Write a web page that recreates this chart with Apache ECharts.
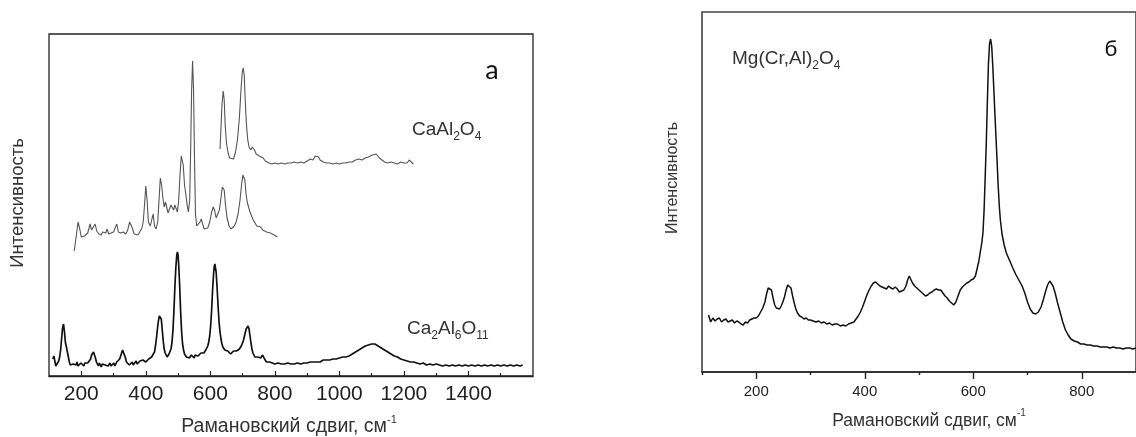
<!DOCTYPE html>
<html>
<head>
<meta charset="utf-8">
<script src="https://cdn.jsdelivr.net/npm/echarts@6/dist/echarts.min.js"></script>
<style>
  html, body { margin: 0; padding: 0; background: #fff; }
  #chart { width: 1136px; height: 437px; }
</style>
</head>
<body>
<div id="chart"></div>
<script>
// Raman shift tick values, cm^-1 (panel а and panel б)
const ticksA = [200, 400, 600, 800, 1000, 1200, 1400];
const minorA = [300, 500, 700, 900, 1100, 1300, 1500];
const ticksB = [200, 400, 600, 800];
const minorB = [100, 300, 500, 700];

// Spectra as [Raman shift (cm^-1), intensity (a.u.)]
const ca2al6o11 = [
  [112,17],[115,20],[118,15],[121,10],[124,8],[127,12],[130,15],[133,19],[136,26],[139,37],[142,48],[145,52],[148,44],[151,33],[154,29],[157,27],[160,19],[163,14],[166,11],[169,13],[172,9],[175,12],[178,10],[181,13],[184,11],[187,14],[190,10],[193,12],[196,9],[199,13],[202,11],[205,12],[208,10],[211,13],[214,11],[217,12],[220,13],[223,12],[226,15],[229,17],[232,21],[235,23],[238,24],[241,23],[244,18],[247,14],[250,12],[253,10],[256,13],[259,11],[262,9],[265,12],[268,10],[271,13],[274,11],[277,9],[280,12],[283,10],[286,11],[289,13],[292,10],[295,12],[298,11],[301,13],[304,10],[307,12],[310,14],[313,12],[316,15],[319,17],[322,19],[325,23],[328,26],[331,27],[334,24],[337,18],[340,14],[343,12],[346,14],[349,11],[352,13],[355,12],[358,14],[361,11],[364,13],[367,12],[370,15],[373,12],[376,14],[379,13],[382,15],[385,13],[388,14],[391,16],[394,14],[397,15],[400,14],[403,16],[406,15],[409,17],[412,16],[415,18],[418,19],[421,18],[424,21],[427,24],[430,30],[433,38],[436,47],[439,55],[442,60],[445,62],[448,57],[451,46],[454,35],[457,27],[460,23],[463,21],[466,19],[469,20],[472,22],[475,24],[478,27],[481,33],[484,45],[487,64],[490,88],[493,108],[496,121],[498,124],[500,121],[502,111],[505,90],[508,64],[511,44],[514,32],[517,26],[520,22],[523,20],[526,19],[529,18],[532,20],[535,18],[538,19],[541,21],[544,19],[547,20],[550,18],[553,21],[556,19],[559,22],[562,20],[565,22],[568,21],[571,23],[574,22],[577,24],[580,23],[583,25],[586,26],[589,28],[592,30],[595,34],[598,40],[601,50],[604,66],[607,86],[610,102],[612,109],[614,112],[616,110],[618,104],[621,88],[624,70],[627,54],[630,44],[633,37],[636,32],[639,29],[642,28],[645,26],[648,25],[651,24],[654,25],[657,23],[660,24],[663,22],[666,24],[669,23],[672,25],[675,23],[678,24],[681,25],[684,24],[687,26],[690,27],[693,28],[696,30],[699,32],[702,35],[705,39],[708,43],[711,47],[714,49],[717,50],[720,47],[723,40],[726,33],[729,27],[732,23],[735,21],[738,19],[741,20],[744,18],[747,19],[750,17],[753,19],[756,18],[759,20],[762,21],[765,19],[768,17],[771,16],[774,14],[777,15],[780,13],[784,14],[788,12],[792,13],[796,11],[800,12],[805,11],[810,13],[815,11],[820,12],[825,10],[830,12],[835,11],[840,13],[845,11],[850,12],[855,10],[860,12],[865,11],[870,13],[875,11],[880,12],[885,11],[890,13],[895,12],[900,13],[905,12],[910,14],[915,13],[920,14],[925,13],[930,14],[935,15],[940,14],[945,15],[950,16],[955,15],[960,16],[965,17],[970,16],[975,17],[980,17],[985,18],[990,17],[995,19],[1000,18],[1005,19],[1010,19],[1015,20],[1020,19],[1025,21],[1030,20],[1035,22],[1040,22],[1045,24],[1050,24],[1055,26],[1060,26],[1065,27],[1070,28],[1075,29],[1080,30],[1085,30],[1090,31],[1095,32],[1100,32],[1105,31],[1110,32],[1115,30],[1120,30],[1125,28],[1130,28],[1135,26],[1140,26],[1145,24],[1150,24],[1155,22],[1160,22],[1165,20],[1170,20],[1175,19],[1180,19],[1185,17],[1190,17],[1195,16],[1200,16],[1210,15],[1220,14],[1230,14],[1240,13],[1250,12],[1260,13],[1270,11],[1280,12],[1290,11],[1300,12],[1310,11],[1320,10],[1330,11],[1340,10],[1350,11],[1360,10],[1370,11],[1380,10],[1390,11],[1400,10],[1410,11],[1420,10],[1430,11],[1440,10],[1450,11],[1460,10],[1470,11],[1480,10],[1490,11],[1500,10],[1510,11],[1520,10],[1530,11],[1540,10],[1550,11],[1560,10],[1568,11]
];

const caal2o4Full = [
  [178,125],[182,134],[186,144],[190,154],[193,155],[196,146],[200,139],[205,141],[210,140],[215,142],[220,143],[224,148],[227,152],[232,146],[238,144],[243,152],[248,145],[255,142],[262,141],[266,144],[270,145],[276,143],[280,147],[285,142],[292,143],[300,144],[306,149],[310,152],[315,144],[322,143],[330,144],[338,142],[344,146],[350,154],[354,156],[358,148],[364,142],[370,140],[376,141],[382,143],[388,148],[392,154],[396,171],[400,190],[404,176],[408,154],[414,150],[419,157],[423,162],[427,150],[432,147],[437,154],[441,176],[445,198],[449,191],[453,178],[457,169],[461,174],[465,173],[469,163],[474,162],[478,171],[482,173],[486,166],[490,171],[494,173],[498,164],[502,176],[506,201],[510,220],[513,222],[516,211],[520,191],[524,182],[528,171],[532,164],[536,176],[539,226],[542,286],[545,315],[548,286],[551,216],[554,161],[558,150],[563,148],[568,154],[572,157],[576,152],[581,147],[587,145],[592,148],[598,154],[604,164],[609,169],[613,166],[618,158],[623,158],[628,166],[633,178],[637,189],[640,191],[643,186],[647,171],[652,158],[658,150],[664,147],[669,147],[674,150],[680,154],[686,162],[692,176],[697,192],[701,201],[704,202],[707,196],[711,181],[715,173],[719,171],[723,164],[728,160],[733,156],[738,154],[744,150],[750,148],[756,149],[762,146],[768,147],[774,144],[780,145],[786,143],[792,144],[798,141],[804,142],[808,139]
];

const caal2o4Top = [
  [630,227],[633,248],[636,271],[640,285],[643,276],[646,251],[650,233],[655,223],[660,218],[666,216],[672,217],[678,224],[684,236],[690,258],[695,286],[699,304],[702,308],[705,301],[708,276],[712,251],[716,236],[720,229],[725,226],[730,229],[733,231],[737,226],[742,222],[747,223],[752,220],[758,219],[764,218],[770,215],[776,214],[782,213],[790,212],[800,213],[810,212],[820,213],[830,212],[840,213],[850,213],[860,214],[870,213],[880,214],[890,213],[900,215],[910,217],[918,216],[925,220],[930,222],[935,219],[940,216],[950,214],[960,213],[970,213],[980,212],[990,213],[1000,212],[1010,213],[1020,213],[1030,214],[1040,214],[1050,216],[1060,217],[1070,216],[1080,218],[1090,219],[1096,218],[1102,221],[1108,219],[1114,222],[1118,220],[1124,218],[1130,216],[1140,214],[1150,213],[1160,214],[1170,213],[1180,212],[1190,214],[1200,213],[1210,213],[1216,216],[1222,214],[1229,212]
];

const mgCrAl2o4 = [
  [112,57],[116,50],[120,54],[124,51],[128,53],[132,54],[136,50],[140,52],[144,53],[148,50],[152,51],[156,52],[160,49],[164,51],[168,50],[172,48],[176,47],[180,50],[184,49],[188,52],[192,53],[196,54],[200,54],[204,56],[208,60],[212,64],[216,70],[219,78],[222,84],[225,86],[228,82],[231,74],[234,67],[237,64],[240,62],[243,63],[246,66],[249,70],[252,75],[255,82],[258,87],[261,89],[264,84],[267,76],[270,69],[273,63],[276,59],[280,56],[284,55],[288,53],[292,54],[296,52],[300,52],[305,51],[310,50],[315,51],[320,49],[325,50],[330,48],[335,49],[340,47],[345,48],[350,48],[355,46],[360,47],[365,46],[370,48],[375,49],[380,50],[384,53],[388,56],[392,60],[396,65],[400,71],[404,77],[408,82],[412,86],[416,89],[420,90],[424,88],[428,86],[432,85],[436,84],[440,83],[444,86],[448,84],[452,83],[456,85],[460,83],[464,80],[468,81],[472,82],[476,86],[479,92],[482,96],[485,94],[488,89],[492,86],[496,84],[500,82],[504,80],[508,78],[512,76],[516,77],[520,79],[524,80],[528,82],[532,83],[536,82],[540,82],[544,79],[548,76],[552,74],[556,71],[560,69],[564,67],[568,70],[572,76],[576,82],[580,85],[584,87],[588,89],[592,90],[596,92],[600,93],[604,96],[607,103],[610,110],[613,120],[616,130],[618,140],[620,162],[622,195],[624,228],[626,270],[628,308],[630,328],[632,333],[634,326],[636,306],[638,282],[640,257],[642,234],[644,210],[646,186],[648,166],[650,152],[653,138],[657,127],[661,119],[665,114],[669,109],[673,104],[678,98],[684,92],[690,86],[695,79],[700,70],[705,63],[710,59],[715,58],[720,60],[725,65],[729,72],[733,80],[737,87],[741,91],[744,90],[747,86],[751,79],[755,70],[760,60],[765,50],[770,42],[775,37],[780,33],[786,31],[792,30],[798,28],[804,28],[810,27],[816,27],[822,26],[828,26],[834,25],[840,25],[846,25],[852,24],[858,25],[864,24],[870,24],[876,23],[882,24],[888,24],[894,23],[900,24]
];

const FONT = '"Liberation Sans", Arial, sans-serif';
const plain = v => String(v);

// Rich-text styles for chemical subscripts and the cm^-1 superscript
function formulaRich(size) {
  return {
    n: { fontSize: size, fontFamily: FONT, lineHeight: 26 },
    s: { fontSize: Math.round(size * 0.62), fontFamily: FONT, verticalAlign: 'bottom', lineHeight: 14 }
  };
}
function unitRich(size) {
  return {
    n: { fontSize: size, fontFamily: FONT, lineHeight: 26 },
    sup: { fontSize: Math.round(size * 0.58), fontFamily: FONT, verticalAlign: 'top', lineHeight: 12 }
  };
}
const SHIFT_NAME = '{n|Рамановский сдвиг, см}{sup|-1}';

function richText(x, y, str, rich, align) {
  return {
    type: 'text', x: x, y: y, silent: true,
    style: { text: str, rich: rich, fill: '#333', align: align || 'left', verticalAlign: 'middle' }
  };
}
function plainText(x, y, str, size, family, color, rotation) {
  return {
    type: 'text', x: x, y: y, silent: true, rotation: rotation || 0,
    style: { text: str, fill: color, fontSize: size, fontFamily: family, align: 'center', verticalAlign: 'middle' }
  };
}

const chart = echarts.init(document.getElementById('chart'), null, { renderer: 'canvas' });

chart.setOption({
  animation: false,
  backgroundColor: '#fff',
  grid: [
    { left: 49, top: 34, width: 484, height: 342, show: true, borderColor: '#222', borderWidth: 1.3 },
    { left: 702, top: 12, width: 446, height: 360, show: true, borderColor: '#444', borderWidth: 1.6 }
  ],
  xAxis: [
    { // panel а: labelled major ticks
      type: 'value', gridIndex: 0, position: 'bottom', min: 100, max: 1600,
      axisLine: { show: true, lineStyle: { color: '#222', width: 1.3 } },
      axisTick: { show: true, inside: true, length: 5, customValues: ticksA, lineStyle: { color: '#222', width: 1.2 } },
      axisLabel: { show: true, customValues: ticksA, formatter: plain, margin: 8, fontSize: 21, fontFamily: FONT, color: '#222' },
      splitLine: { show: false }
    },
    { // panel а: minor ticks
      type: 'value', gridIndex: 0, position: 'bottom', min: 100, max: 1600,
      axisLine: { show: false },
      axisTick: { show: true, inside: true, length: 3, customValues: minorA, lineStyle: { color: '#222', width: 1.2 } },
      axisLabel: { show: false },
      splitLine: { show: false }
    },
    { // panel б: labelled major ticks
      type: 'value', gridIndex: 1, position: 'bottom', min: 100, max: 900,
      axisLine: { show: true, lineStyle: { color: '#222', width: 1.6 } },
      axisTick: { show: true, inside: false, length: 7, customValues: ticksB, lineStyle: { color: '#222', width: 1.4 } },
      axisLabel: { show: true, customValues: ticksB, formatter: plain, margin: 12, fontSize: 15, fontFamily: FONT, color: '#222' },
      splitLine: { show: false }
    },
    { // panel б: minor ticks
      type: 'value', gridIndex: 1, position: 'bottom', min: 100, max: 900,
      axisLine: { show: false },
      axisTick: { show: true, inside: false, length: 3, customValues: minorB, lineStyle: { color: '#222', width: 1.4 } },
      axisLabel: { show: false },
      splitLine: { show: false }
    }
  ],
  yAxis: [
    { type: 'value', gridIndex: 0, min: 0, max: 342, show: false },
    { type: 'value', gridIndex: 1, min: 0, max: 360, show: false }
  ],
  series: [
    {
      name: 'CaAl2O4 (full)', type: 'line', xAxisIndex: 0, yAxisIndex: 0,
      data: caal2o4Full, showSymbol: false,
      lineStyle: { color: '#555', width: 1.1 }
    },
    {
      name: 'CaAl2O4', type: 'line', xAxisIndex: 0, yAxisIndex: 0,
      data: caal2o4Top, showSymbol: false,
      lineStyle: { color: '#555', width: 1.1 }
    },
    {
      name: 'Ca2Al6O11', type: 'line', xAxisIndex: 0, yAxisIndex: 0,
      data: ca2al6o11, showSymbol: false,
      lineStyle: { color: '#111', width: 1.7 }
    },
    {
      name: 'Mg(Cr,Al)2O4', type: 'line', xAxisIndex: 2, yAxisIndex: 1,
      data: mgCrAl2o4, showSymbol: false,
      lineStyle: { color: '#111', width: 1.5 }
    }
  ],
  graphic: [
    // panel letters
    plainText(492, 70, 'а', 27, 'Lato, "Open Sans", sans-serif', '#111'),
    plainText(1111, 49, 'б', 22, 'Lato, "Open Sans", sans-serif', '#111'),
    // compound labels
    richText(412, 130, '{n|CaAl}{s|2}{n|O}{s|4}', formulaRich(19)),
    richText(407, 329, '{n|Ca}{s|2}{n|Al}{s|6}{n|O}{s|11}', formulaRich(19)),
    richText(732, 59, '{n|Mg(Cr,Al)}{s|2}{n|O}{s|4}', formulaRich(19)),
    // axis titles
    richText(289, 427, SHIFT_NAME, unitRich(19.5), 'center'),
    richText(929, 421, SHIFT_NAME, unitRich(17.5), 'center'),
    plainText(18, 203, 'Интенсивность', 18.5, FONT, '#333', Math.PI / 2),
    plainText(673, 178, 'Интенсивность', 16, FONT, '#333', Math.PI / 2)
  ]
});
</script>
</body>
</html>
